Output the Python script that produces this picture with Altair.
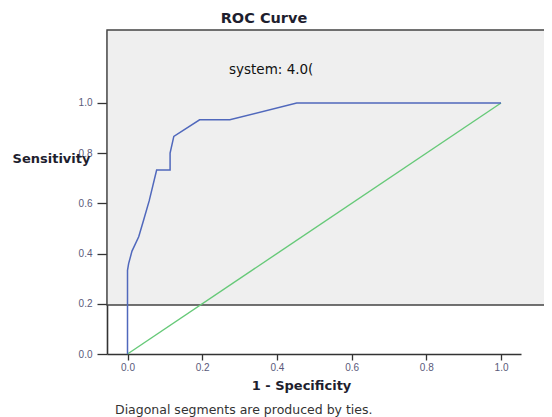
import altair as alt
import pandas as pd

# ROC curve
fpr = [0.0, 0.0, 0.003, 0.012, 0.030, 0.043, 0.058, 0.078, 0.114, 0.114, 0.124, 0.193, 0.274, 0.453, 1.0]
tpr = [0.0, 0.333, 0.36, 0.41, 0.467, 0.533, 0.61, 0.733, 0.733, 0.80, 0.867, 0.933, 0.933, 1.0, 1.0]
ref_x = [0.0, 1.0]
ref_y = [0.0, 1.0]
tick_values = [0.0, 0.2, 0.4, 0.6, 0.8, 1.0]
chart_title = "ROC Curve"
curve_label = "system: 4.0("
footnote = "Diagonal segments are produced by ties."
x_title = "1 - Specificity"
y_title = "Sensitivity"

X_DOMAIN = [-0.0549, 1.0535]
Y_DOMAIN = [0.0, 1.2908]

curve_df = pd.DataFrame({"fpr": fpr, "tpr": tpr, "order": list(range(len(fpr)))})
ref_df = pd.DataFrame({"fpr": ref_x, "tpr": ref_y})
panel_df = pd.DataFrame({"x": [X_DOMAIN[0]], "x2": [1.137], "y": [0.195], "y2": [Y_DOMAIN[1]]})

xs = alt.Scale(domain=X_DOMAIN, nice=False, zero=False)
ys = alt.Scale(domain=Y_DOMAIN, nice=False, zero=False)

x_axis = alt.Axis(
    values=tick_values, format=".1f", grid=False, title=x_title,
    domainColor="#333333", domainWidth=1.6, tickColor="#333333", tickWidth=1.3, tickSize=6,
    labelFont="Liberation Sans", labelFontSize=10, labelColor="#5a5a7a", labelPadding=2,
    titleFont="DejaVu Sans", titleFontSize=13, titleFontWeight="bold", titleColor="#1e1e2e",
    titleX=194, titleY=31, titleAlign="center", titleBaseline="middle",
)
y_axis = alt.Axis(
    values=tick_values, format=".1f", grid=False, title=y_title,
    domainColor="#333333", domainWidth=1.6, tickColor="#333333", tickWidth=1.3, tickSize=10,
    labelFont="Liberation Sans", labelFontSize=10, labelColor="#5a5a7a", labelPadding=5,
    titleFont="DejaVu Sans", titleFontSize=13, titleFontWeight="bold", titleColor="#1e1e2e",
    titleAngle=0, titleX=-56, titleY=128, titleAlign="center", titleBaseline="middle",
)

panel = alt.Chart(panel_df).mark_rect(fill="#efefef", stroke="#444444", strokeWidth=1.4).encode(
    x=alt.X("x:Q", scale=xs, axis=x_axis),
    x2="x2:Q",
    y=alt.Y("y:Q", scale=ys, axis=y_axis),
    y2="y2:Q",
)

diag = alt.Chart(ref_df).mark_line(color="#66c978", strokeWidth=1.4).encode(
    x=alt.X("fpr:Q", scale=xs),
    y=alt.Y("tpr:Q", scale=ys),
)

curve = alt.Chart(curve_df).mark_line(color="#5068bc", strokeWidth=1.5).encode(
    x=alt.X("fpr:Q", scale=xs),
    y=alt.Y("tpr:Q", scale=ys),
    order="order:Q",
)

title_txt = alt.Chart(pd.DataFrame({"t": [chart_title]})).mark_text(
    font="DejaVu Sans", fontSize=14.5, fontWeight="bold", color="#1e1e2e",
    align="center", baseline="middle",
).encode(text="t:N", x=alt.value(157), y=alt.value(-11))

label_txt = alt.Chart(pd.DataFrame({"t": [curve_label]})).mark_text(
    font="DejaVu Sans", fontSize=13.5, color="#111111",
    align="left", baseline="middle",
).encode(text="t:N", x=alt.value(122), y=alt.value(40))

foot_txt = alt.Chart(pd.DataFrame({"t": [footnote]})).mark_text(
    font="DejaVu Sans", fontSize=12.5, color="#333333",
    align="left", baseline="middle",
).encode(text="t:N", x=alt.value(8), y=alt.value(380))

chart = alt.layer(panel, diag, curve, title_txt, label_txt, foot_txt).properties(
    width=414, height=324,
    autosize="none",
    padding={"left": 99, "top": 22, "right": 23, "bottom": 63},
    view=alt.ViewBackground(stroke="transparent", strokeWidth=0),
).configure_view(stroke="transparent", strokeWidth=0).configure(background="white")

chart.save("out.html", embed_options={"renderer": "svg", "actions": False})
